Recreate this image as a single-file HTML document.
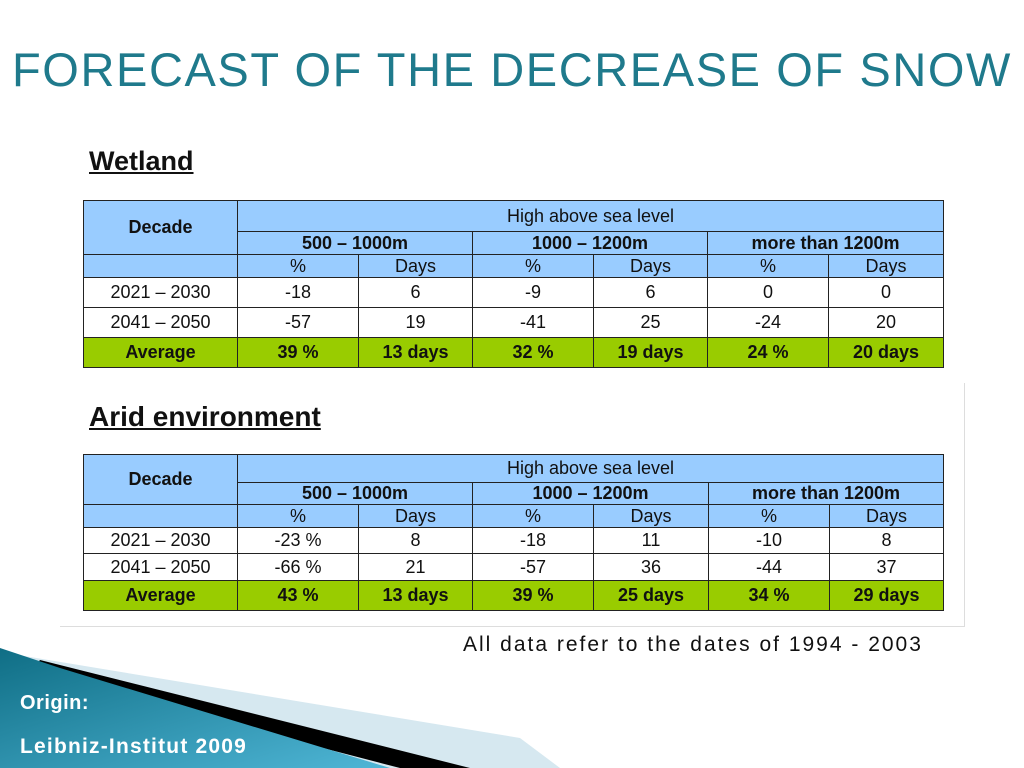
<!DOCTYPE html>
<html><head><meta charset="utf-8"><style>
body{margin:0;width:1024px;height:768px;position:relative;overflow:hidden;background:#fff;font-family:"Liberation Sans",Arial,sans-serif}
.title{position:absolute;left:0;width:1024px;top:42px;text-align:center;font-size:47px;color:#1f7a8c;letter-spacing:1.6px}
.h{position:absolute;font-weight:bold;font-size:27px;text-decoration:underline;color:#111}
table{position:absolute;border-collapse:collapse;table-layout:fixed;font-size:18px;color:#111}
td{border:1px solid #222;text-align:center;padding:0;overflow:hidden;white-space:nowrap}
.hd{background:#99ccff}
.av td{background:#99cc00;font-weight:bold}
.b{font-weight:bold}
</style></head><body>
<div class="title">FORECAST OF THE DECREASE OF SNOW</div>
<div class="h" style="left:89px;top:146px">Wetland</div>
<table style="left:83px;top:200px;width:860px">
<colgroup><col style="width:154px"><col style="width:121px"><col style="width:114px"><col style="width:121px"><col style="width:114px"><col style="width:121px"><col style="width:115px"></colgroup>
<tr style="height:31px"><td class="hd b" rowspan="2">Decade</td><td class="hd" colspan="6">High above sea level</td></tr>
<tr style="height:23px"><td class="hd b" colspan="2">500 – 1000m</td><td class="hd b" colspan="2">1000 – 1200m</td><td class="hd b" colspan="2">more than 1200m</td></tr>
<tr style="height:23px"><td class="hd"></td><td class="hd">%</td><td class="hd">Days</td><td class="hd">%</td><td class="hd">Days</td><td class="hd">%</td><td class="hd">Days</td></tr>
<tr style="height:30px"><td>2021 – 2030</td><td>-18</td><td>6</td><td>-9</td><td>6</td><td>0</td><td>0</td></tr>
<tr style="height:30px"><td>2041 – 2050</td><td>-57</td><td>19</td><td>-41</td><td>25</td><td>-24</td><td>20</td></tr>
<tr class="av" style="height:30px"><td>Average</td><td>39 %</td><td>13 days</td><td>32 %</td><td>19 days</td><td>24 %</td><td>20 days</td></tr>
</table>
<div style="position:absolute;left:60px;top:383px;width:904px;height:243px;border-right:1px solid #ddd;border-bottom:1px solid #ddd"></div>
<div class="h" style="left:89px;top:401px;font-size:28px">Arid environment</div>
<table style="left:83px;top:454px;width:860px">
<colgroup><col style="width:154px"><col style="width:121px"><col style="width:114px"><col style="width:121px"><col style="width:115px"><col style="width:121px"><col style="width:114px"></colgroup>
<tr style="height:28px"><td class="hd b" rowspan="2">Decade</td><td class="hd" colspan="6">High above sea level</td></tr>
<tr style="height:22px"><td class="hd b" colspan="2">500 – 1000m</td><td class="hd b" colspan="2">1000 – 1200m</td><td class="hd b" colspan="2">more than 1200m</td></tr>
<tr style="height:23px"><td class="hd"></td><td class="hd">%</td><td class="hd">Days</td><td class="hd">%</td><td class="hd">Days</td><td class="hd">%</td><td class="hd">Days</td></tr>
<tr style="height:26px"><td>2021 – 2030</td><td>-23 %</td><td>8</td><td>-18</td><td>11</td><td>-10</td><td>8</td></tr>
<tr style="height:27px"><td>2041 – 2050</td><td>-66 %</td><td>21</td><td>-57</td><td>36</td><td>-44</td><td>37</td></tr>
<tr class="av" style="height:30px"><td>Average</td><td>43 %</td><td>13 days</td><td>39 %</td><td>25 days</td><td>34 %</td><td>29 days</td></tr>
</table>
<div style="position:absolute;left:463px;top:633px;font-size:21px;letter-spacing:2px;color:#111">All data refer to the dates of 1994 - 2003</div>
<svg style="position:absolute;left:0;top:0" width="1024" height="768">
<defs><linearGradient id="g" x1="0" y1="0" x2="1" y2="1"><stop offset="0" stop-color="#0f6e85"/><stop offset="1" stop-color="#4fb6d6"/></linearGradient></defs>
<polygon points="0,652 520,738 560,768 0,768" fill="#d6e8f0"/>
<polygon points="40,660 470,768 400,768 30,672" fill="#000"/>
<polygon points="0,648 60,668 390,768 0,768" fill="url(#g)"/>
</svg>
<div style="position:absolute;left:20px;top:692px;color:#fff;font-weight:bold;font-size:20px;letter-spacing:0.5px">Origin:</div>
<div style="position:absolute;left:20px;top:735px;color:#fff;font-weight:bold;font-size:21px;letter-spacing:1.2px">Leibniz-Institut 2009</div>
</body></html>
